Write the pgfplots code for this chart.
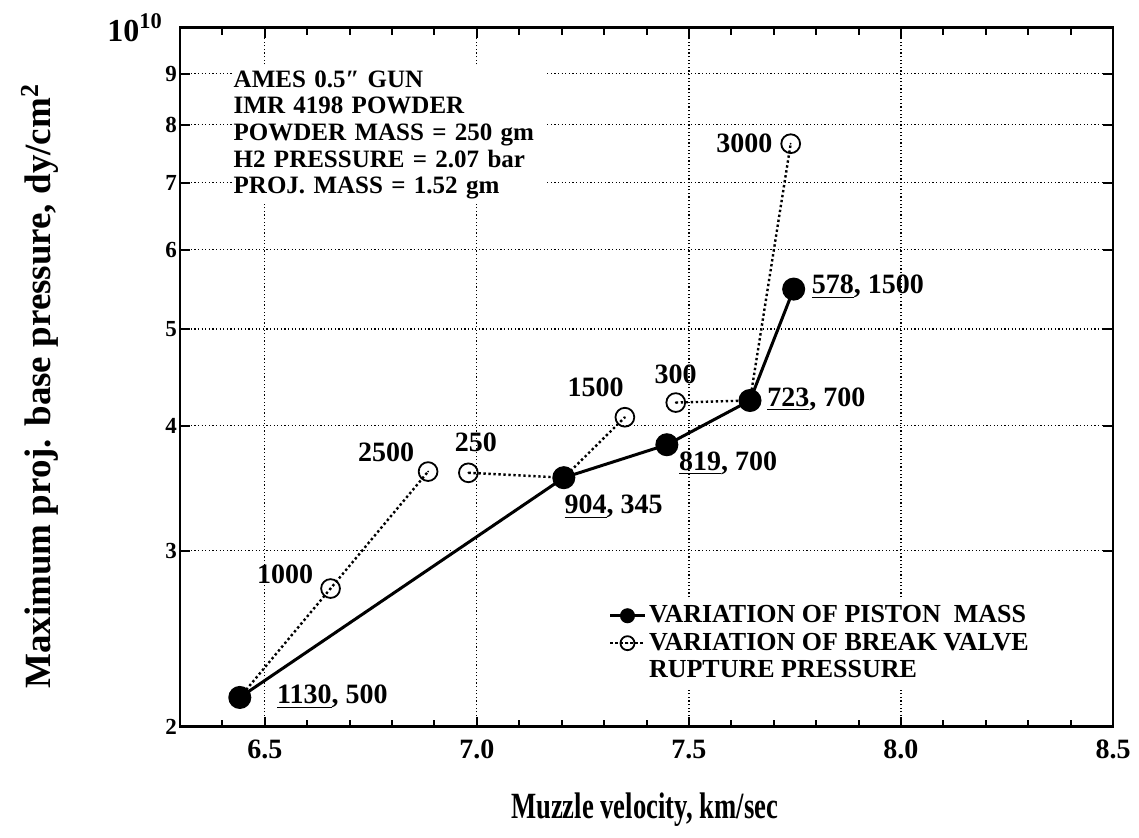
\documentclass[border=0pt]{standalone}
\usepackage{pgfplots}
\pgfplotsset{compat=1.18}
\usepackage{fontspec}
\setmainfont{Liberation Serif}
\pgfdeclareplotmark{odot}{%
  \pgfpathcircle{\pgfpointorigin}{\pgfplotmarksize}\pgfusepathqstroke
  \pgfpathcircle{\pgfpointorigin}{0.5pt}\pgfusepathqfill}
\begin{document}
\begin{tikzpicture}
\useasboundingbox (-90pt,-55.5pt) rectangle (479.5pt,363.5pt);
\begin{axis}[
  at={(0pt,0pt)}, anchor=south west,
  width=466.5pt, height=349.5pt, scale only axis,
  xmin=6.3, xmax=8.5, ymode=log, ymin=2e9, ymax=1e10,
  xtick={6.5,7,7.5,8,8.5}, xticklabels={6.5,7.0,7.5,8.0,8.5},
  minor xtick={6.3,6.4,6.6,6.7,6.8,6.9,7.1,7.2,7.3,7.4,7.6,7.7,7.8,7.9,8.1,8.2,8.3,8.4},
  ytick={2e9,3e9,4e9,5e9,6e9,7e9,8e9,9e9,1e10},
  yticklabels={2,3,4,5,6,7,8,9,{}},
  minor ytick={},
  grid=major,
  major grid style={black, line width=0.6pt, dash pattern=on 0.6pt off 1.2pt},
  tick align=inside,
  axis line style={line width=1.4pt},
  major tick length=5pt, minor tick length=3.5pt,
  every tick/.style={black, line width=1pt},
  x tick label style={font=\bfseries\fontsize{14}{16}\selectfont, yshift=-3pt},
  y tick label style={font=\bfseries\fontsize{11.5}{13}\selectfont, xshift=2pt},
  xlabel={\scalebox{0.72}[1]{Muzzle velocity, km/sec}},
  ylabel={Maximum proj. base pressure, dy/cm$^{\mathbf{2}}$},
  label style={font=\bfseries\fontsize{18.5}{21}\selectfont},
  xlabel style={at={(axis description cs:0.498,-0.118)}, anchor=center},
  ylabel style={at={(axis description cs:-0.150,0.487)}, anchor=center},
  legend style={draw=none, fill=white, at={(rel axis cs:0.455,0.184)}, anchor=north west,
    font=\bfseries\fontsize{13}{14}\selectfont, inner sep=2pt,
    nodes={inner sep=1.5pt}, row sep=0.6pt},
  legend cell align=left,
  clip=false,
]
% dotted segments (break valve rupture pressure)
\addplot[black, line width=1.2pt, dash pattern=on 1.2pt off 1.3pt, forget plot]
  coordinates {(6.441,2.14e9) (6.655,2.75e9) (6.885,3.60e9)};
\addplot[black, line width=1.2pt, dash pattern=on 1.2pt off 1.3pt, forget plot]
  coordinates {(6.980,3.59e9) (7.205,3.55e9) (7.349,4.08e9)};
\addplot[black, line width=1.2pt, dash pattern=on 1.2pt off 1.3pt, forget plot]
  coordinates {(7.469,4.22e9) (7.644,4.24e9) (7.740,7.66e9)};
% piston mass
\addplot[black, line width=1.5pt, mark=*, mark size=5pt, forget plot]
  coordinates {(6.441,2.14e9) (7.205,3.55e9) (7.448,3.83e9) (7.644,4.24e9) (7.747,5.48e9)};
% open markers
\addplot[black, only marks, mark=odot, mark size=4.7pt, mark options={solid, line width=0.9pt}, forget plot]
  coordinates {(6.655,2.75e9) (6.885,3.60e9) (6.980,3.59e9) (7.349,4.08e9) (7.469,4.22e9) (7.740,7.66e9)};
\addlegendimage{black, line width=1.5pt, mark=*, mark size=3pt}
\addlegendentry{VARIATION OF PISTON\ \ MASS}
\addlegendimage{black, line width=1.2pt, dash pattern=on 1.2pt off 1.3pt, mark=odot, mark size=3.5pt, mark options={solid, line width=0.9pt}}
\addlegendentry{VARIATION OF BREAK VALVE}
\addlegendimage{empty legend}
\addlegendentry{RUPTURE PRESSURE}
% point labels
\begin{scope}[every node/.style={font=\bfseries\fontsize{14}{16}\selectfont, inner sep=0pt, anchor=west}]
\node at (axis cs:6.528,2.143e9) {\underline{1130}, 500};
\node at (axis cs:7.206,3.32e9) {\underline{904}, 345};
\node at (axis cs:7.476,3.67e9) {\underline{819}, 700};
\node at (axis cs:7.684,4.25e9) {\underline{723}, 700};
\node at (axis cs:7.789,5.51e9) {\underline{578}, 1500};
\node at (axis cs:7.564,7.67e9) {3000};
\node at (axis cs:7.418,4.50e9) {300};
\node at (axis cs:7.213,4.37e9) {1500};
\node at (axis cs:6.947,3.85e9) {250};
\node at (axis cs:6.719,3.76e9) {2500};
\node at (axis cs:6.481,2.84e9) {1000};
\end{scope}
\node[anchor=north west, align=left, text width=155pt, fill=white, inner xsep=1pt, inner ysep=2pt,
  font=\bfseries\fontsize{12.5}{13.3}\selectfont] at (rel axis cs:0.055,0.945)
  {AMES 0.5″ GUN\\IMR 4198 POWDER\\POWDER MASS = 250 gm\\H2 PRESSURE = 2.07 bar\\PROJ. MASS = 1.52 gm};
\node[anchor=south east, inner sep=0pt, font=\bfseries\fontsize{16}{18}\selectfont]
  at (rel axis cs:-0.018,0.98) {10$^{\mathbf{10}}$};
\end{axis}
\end{tikzpicture}
\end{document}
